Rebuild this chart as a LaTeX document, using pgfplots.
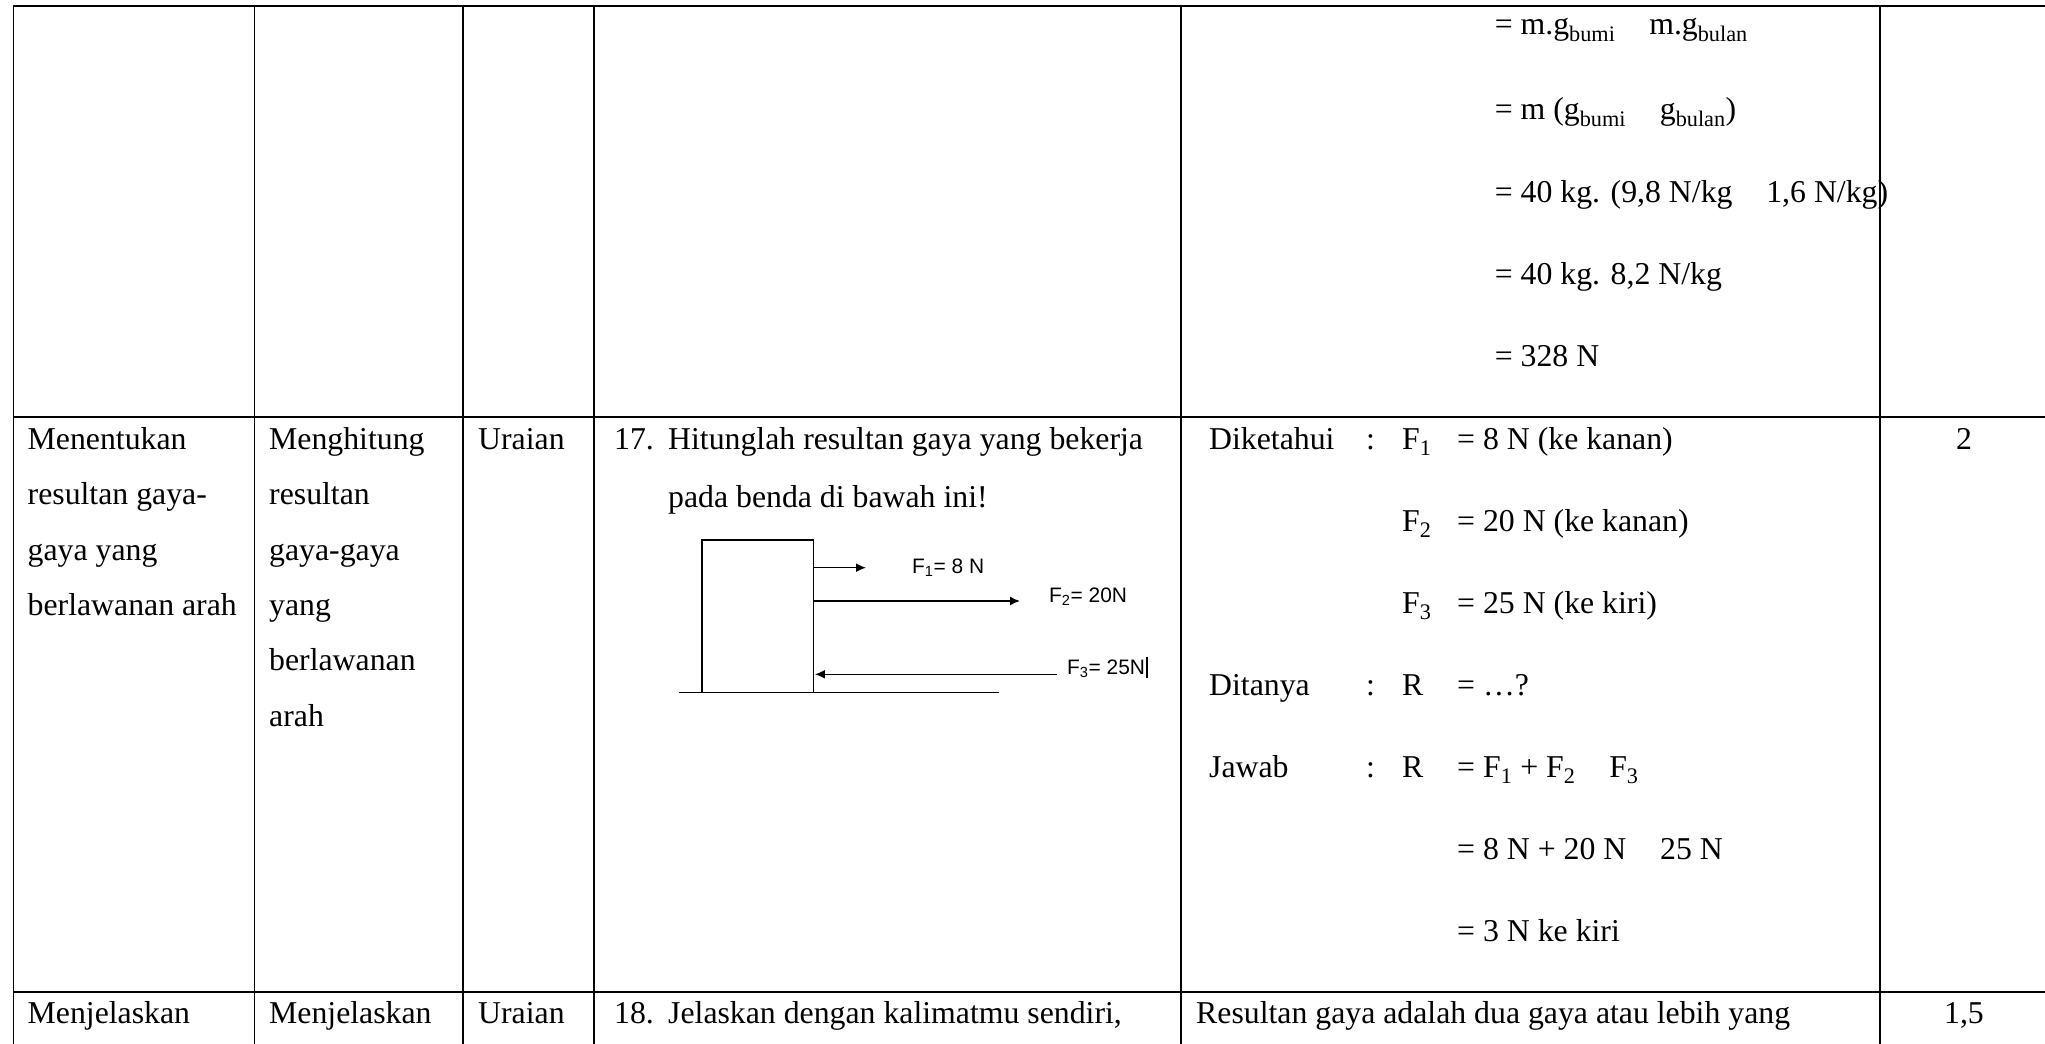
\documentclass[border=0pt]{standalone}
\usepackage{pgfplots}
\pgfplotsset{compat=1.18}
\usepackage{fontspec}
\setmainfont{Liberation Serif}
\newfontfamily\arial{Liberation Sans}
\usetikzlibrary{arrows.meta}
\newcommand{\gap}{ \phantom{−} }
\tikzset{
  tx/.style={font=\fontsize{31.9}{38}\selectfont, inner sep=0pt, anchor=base west},
  txc/.style={font=\fontsize{31.9}{38}\selectfont, inner sep=0pt, anchor=base},
  sx/.style={font=\arial\fontsize{21}{24}\selectfont, inner sep=0pt, anchor=base west},
}
\pgfplotsset{
  tbl/.style={black, line width=2pt, no marks},
  dg/.style={black, line width=1.5pt, no marks},
  arr/.style={black, line width=1.5pt, no marks, -{Latex[length=10pt,width=9pt]}},
}
\begin{document}
\begin{tikzpicture}
\begin{axis}[
  width=2045bp, height=1044bp, scale only axis,
  xmin=0, xmax=2045, ymin=0, ymax=1044, y dir=reverse,
  hide axis, clip=false,
]
\addplot[draw=none, no marks] coordinates {(0,0) (2045,1044)};
% table rules
\addplot[tbl] coordinates {(13,6) (2045,6)};
\addplot[tbl] coordinates {(13,417) (2045,417)};
\addplot[tbl] coordinates {(13,991.5) (2045,991.5)};
\addplot[tbl] coordinates {(13.5,6) (13.5,1044)};
\addplot[tbl] coordinates {(254.5,6) (254.5,1044)};
\addplot[tbl] coordinates {(462.5,6) (462.5,1044)};
\addplot[tbl] coordinates {(594,6) (594,1044)};
\addplot[tbl] coordinates {(1181,6) (1181,1044)};
\addplot[tbl] coordinates {(1879.5,6) (1879.5,1044)};
% diagram
\addplot[dg] coordinates {(702,692.7) (702,540) (813.5,540) (813.5,692.7)};
\addplot[dg] coordinates {(678.5,692.7) (999,692.7)};
\addplot[arr] coordinates {(813.5,567.7) (866,567.7)};
\addplot[arr] coordinates {(813.5,601) (1020,601)};
\addplot[arr] coordinates {(1057,674.3) (815,674.3)};
\addplot[black, line width=2.4pt, no marks] coordinates {(1147,657) (1147,678)};
\node[sx] at (axis cs:912,573) {F\textsubscript{1}= 8 N};
\node[sx] at (axis cs:1049,602) {F\textsubscript{2}= 20N};
\node[sx] at (axis cs:1067,674) {F\textsubscript{3}= 25N};
% row 1, answer column
\node[tx] at (axis cs:1494.6,35) {= m.g\textsubscript{bumi}\gap m.g\textsubscript{bulan}};
\node[tx] at (axis cs:1494.6,120) {= m (g\textsubscript{bumi}\gap g\textsubscript{bulan})};
\node[tx] at (axis cs:1494.6,203) {= 40 kg. (9,8 N/kg\gap 1,6 N/kg)};
\node[tx] at (axis cs:1494.6,285) {= 40 kg. 8,2 N/kg};
\node[tx] at (axis cs:1494.6,366) {= 328 N};
% row 2
\node[tx] at (axis cs:27.5,449) {Menentukan};
\node[tx] at (axis cs:27.5,504) {resultan gaya-};
\node[tx] at (axis cs:27.5,560) {gaya yang};
\node[tx] at (axis cs:27.5,615) {berlawanan arah};
\node[tx] at (axis cs:269,449) {Menghitung};
\node[tx] at (axis cs:269,504) {resultan};
\node[tx] at (axis cs:269,560) {gaya-gaya};
\node[tx] at (axis cs:269,615) {yang};
\node[tx] at (axis cs:269,670.5) {berlawanan};
\node[tx] at (axis cs:269,726) {arah};
\node[tx] at (axis cs:478,449) {Uraian};
\node[tx] at (axis cs:614,449) {17.};
\node[tx] at (axis cs:668,449) {Hitunglah resultan gaya yang bekerja};
\node[tx] at (axis cs:668,507) {pada benda di bawah ini!};
\node[tx] at (axis cs:1209,449) {Diketahui};
\node[tx] at (axis cs:1366,449) {:};
\node[tx] at (axis cs:1402,449) {F\textsubscript{1}};
\node[tx] at (axis cs:1457,449) {= 8 N (ke kanan)};
\node[tx] at (axis cs:1402,531) {F\textsubscript{2}};
\node[tx] at (axis cs:1457,531) {= 20 N (ke kanan)};
\node[tx] at (axis cs:1402,613) {F\textsubscript{3}};
\node[tx] at (axis cs:1457,613) {= 25 N (ke kiri)};
\node[tx] at (axis cs:1209,695) {Ditanya};
\node[tx] at (axis cs:1366,695) {:};
\node[tx] at (axis cs:1402,695) {R};
\node[tx] at (axis cs:1457,695) {= …?};
\node[tx] at (axis cs:1209,777) {Jawab};
\node[tx] at (axis cs:1366,777) {:};
\node[tx] at (axis cs:1402,777) {R};
\node[tx] at (axis cs:1457,777) {= F\textsubscript{1} + F\textsubscript{2}\gap F\textsubscript{3}};
\node[tx] at (axis cs:1457,859) {= 8 N + 20 N\gap 25 N};
\node[tx] at (axis cs:1457,941) {= 3 N ke kiri};
\node[txc] at (axis cs:1964,449) {2};
% row 3
\node[tx] at (axis cs:27.5,1023) {Menjelaskan};
\node[tx] at (axis cs:269,1023) {Menjelaskan};
\node[tx] at (axis cs:478,1023) {Uraian};
\node[tx] at (axis cs:614,1023) {18.};
\node[tx] at (axis cs:668,1023) {Jelaskan dengan kalimatmu sendiri,};
\node[tx] at (axis cs:1196,1023) {Resultan gaya adalah dua gaya atau lebih yang};
\node[txc] at (axis cs:1964,1023) {1,5};
\end{axis}
\pgfresetboundingbox
\path[use as bounding box] (current axis.south west) rectangle (current axis.north east);
\end{tikzpicture}
\end{document}
